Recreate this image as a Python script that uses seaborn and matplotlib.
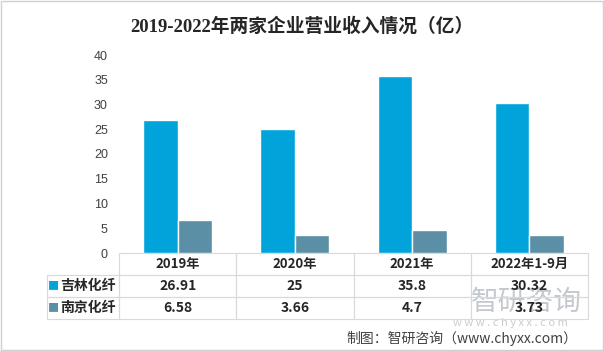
import pandas as pd
import seaborn as sns
import matplotlib.pyplot as plt
from matplotlib.patches import Rectangle

# 数据
years = ['2019年', '2020年', '2021年', '2022年1-9月']
companies = ['吉林化纤', '南京化纤']
jilin = [26.91, 25, 35.8, 30.32]
nanjing = [6.58, 3.66, 4.7, 3.73]
colors = ['#00A3DA', '#5B8FA5']

df = pd.DataFrame({
    '年份': years * 2,
    '公司': [companies[0]] * len(years) + [companies[1]] * len(years),
    '营业收入': jilin + nanjing,
})

sns.set_style('white')
plt.rcParams['font.family'] = ['Noto Sans CJK SC', 'DejaVu Sans']

fig = plt.figure(figsize=(6.04, 3.51), dpi=100)
ax = fig.add_axes([119 / 604, 1 - 253 / 351, 469 / 604, 198 / 351])

sns.barplot(data=df, x='年份', y='营业收入', hue='公司', palette=colors,
            width=0.59, saturation=1, errorbar=None, legend=False, ax=ax)
ax.set_ylim(0, 40)
ax.set_yticks(range(0, 41, 5))
ax.set_xlabel('')
ax.set_ylabel('')
ax.set_xticks([])
ax.tick_params(axis='y', length=0, pad=8, labelsize=9, labelcolor='#404040')
for lab in ax.get_yticklabels():
    lab.set_family(['Liberation Sans', 'DejaVu Sans'])
sns.despine(ax=ax, left=True, bottom=True)

# 水印（放在表格下面）
fig.text(526 / 604, 1 - 302 / 351, '智研咨询', ha='center', va='center',
         fontsize=20, color='#C4C9CF', zorder=-1)
fig.text(510 / 604, 1 - 323 / 351, 'w w w . c h y x x . c o m', ha='center',
         va='center', fontsize=8, color='#C9CDD2', zorder=-1)

# 底部数据表
cell_text = [[companies[0]] + [f'{v:g}' for v in jilin],
             [companies[1]] + [f'{v:g}' for v in nanjing]]
label_w = 72 / 469
tbl = ax.table(cellText=cell_text, colLabels=[''] + years,
               colWidths=[label_w] + [0.25] * len(years),
               cellLoc='center', bbox=[-label_w, -66 / 198, 1 + label_w, 66 / 198])
tbl.auto_set_font_size(False)
for (r, c), cell in tbl.get_celld().items():
    cell.set_edgecolor('#D9D9D9')
    cell.set_facecolor('none')
    cell.set_linewidth(0.8)
    txt = cell.get_text()
    txt.set_fontweight('bold')
    txt.set_fontsize(9.5 if r == 0 else 10)
    if r == 0 and c == 0:
        cell.visible_edges = 'open'
    if c == 0 and r > 0:
        cell._loc = 'right'
        cell.PAD = 0.05
        txt.set_horizontalalignment('right')

# 图例小方块
for r, col in zip([1, 2], colors):
    ax.annotate('■', xy=(0.09, 0.5), xycoords=tbl[(r, 0)], ha='center',
                va='center', color=col, fontsize=8)

# 标题
fig.text(0.5, 1 - 27 / 351, '2019-2022年两家企业营业收入情况（亿）',
         ha='center', va='center', fontsize=13.5, fontweight='bold',
         family=['Liberation Serif', 'Noto Sans CJK SC'])

# 来源
fig.text(577 / 604, 1 - 338 / 351, '制图：智研咨询（www.chyxx.com）',
         ha='right', va='center', fontsize=10, color='#404040')

fig.patches.append(Rectangle((0.001, 0.002), 0.997, 0.996, transform=fig.transFigure,
                             fill=False, edgecolor='#D0D0D0', lw=1))

fig.savefig('out.png', dpi=100)
plt.close()
